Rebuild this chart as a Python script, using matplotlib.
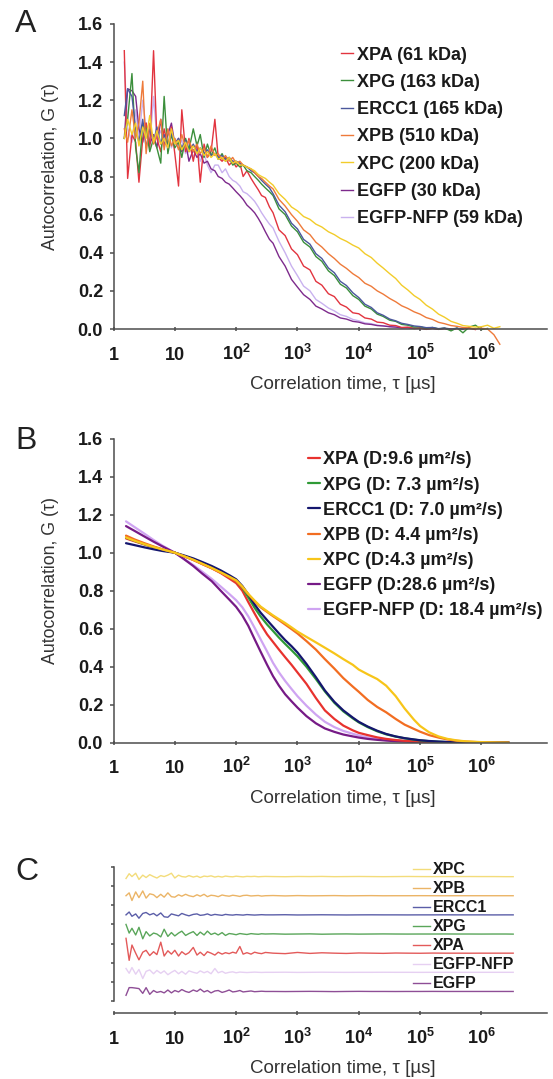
import numpy as np
import matplotlib
matplotlib.use('Agg')
import matplotlib.pyplot as plt
from matplotlib.ticker import NullLocator, NullFormatter

plt.rcParams['font.family'] = ['Liberation Sans', 'DejaVu Sans']
plt.rcParams['mathtext.fontset'] = 'custom'
plt.rcParams['mathtext.rm'] = 'Liberation Sans'
plt.rcParams['mathtext.bf'] = 'Liberation Sans:bold'
plt.rcParams['mathtext.it'] = 'Liberation Sans:italic'

# ---------------- data ----------------
NAMES = ['XPA', 'XPG', 'ERCC1', 'XPB', 'XPC', 'EGFP', 'EGFP-NFP']
LABELS_A = ['XPA (61 kDa)', 'XPG (163 kDa)', 'ERCC1 (165 kDa)', 'XPB (510 kDa)',
            'XPC (200 kDa)', 'EGFP (30 kDa)', 'EGFP-NFP (59 kDa)']
LABELS_B = ['XPA (D:9.6 µm²/s)', 'XPG (D: 7.3 µm²/s)', 'ERCC1 (D: 7.0 µm²/s)',
            'XPB (D: 4.4 µm²/s)', 'XPC (D:4.3 µm²/s)', 'EGFP (D:28.6 µm²/s)',
            'EGFP-NFP (D: 18.4 µm²/s)']
ORDER_C = ['XPC', 'XPB', 'ERCC1', 'XPG', 'XPA', 'EGFP-NFP', 'EGFP']
XTICKS = [1, 10, 1e2, 1e3, 1e4, 1e5, 1e6]
XTICK_LABELS = ['1', '10', r'$\mathbf{10^{2}}$', r'$\mathbf{10^{3}}$', r'$\mathbf{10^{4}}$',
                r'$\mathbf{10^{5}}$', r'$\mathbf{10^{6}}$']

# Panel A: measured autocorrelation (noisy)
TAU_A_HEAD = [1.5, 1.7, 2.0, 2.3, 2.6, 3.0, 3.4, 3.9, 4.5, 5.1,
              5.9, 6.7, 7.7, 8.8, 10, 11.5, 13, 15, 17, 20,
              23, 26, 30, 34, 39, 45, 51, 59, 67, 77,
              88, 100, 115, 130, 150, 175, 200, 230, 260, 300]
TAU_A_TAIL = [350, 400, 500, 630, 800, 1000, 1260, 1600, 2000, 2500,
              3200, 4000, 5000, 6300, 8000, 1e4, 1.26e4, 1.6e4, 2e4, 2.5e4,
              3.2e4, 4e4, 5e4, 6.3e4, 8e4, 1e5, 1.26e5, 1.6e5, 2e5, 2.5e5,
              3.2e5, 4e5, 5e5, 6.3e5, 8e5, 1e6, 1.26e6, 1.6e6, 2e6]

XPA_A_HEAD = [1.46, 0.79, 1.02, 0.98, 0.77, 1.0, 1.08, 0.95, 1.46, 1.0,
              0.93, 1.05, 0.96, 1.06, 0.92, 0.75, 1.15, 0.93, 1.0, 0.88,
              0.98, 0.77, 0.97, 0.9, 0.93, 1.1, 0.9, 0.88, 0.9, 0.86,
              0.88, 0.85, 0.87, 0.8, 0.83, 0.79, 0.76, 0.73, 0.7, 0.69]
XPA_A_TAIL = [0.64, 0.61, 0.52, 0.49, 0.42, 0.39, 0.33, 0.31, 0.25, 0.23,
              0.185, 0.17, 0.13, 0.115, 0.085, 0.08, 0.058, 0.052, 0.036, 0.033,
              0.02, 0.018, 0.008, 0.01, 0.003, 0.006, -0.002, 0.004, 0.0, 0.003,
              -0.004, 0.002, 0.0, 0.004, -0.003, None, None, None, None]
XPG_A_HEAD = [1.0, 1.1, 1.34, 0.95, 0.82, 1.08, 1.05, 0.93, 1.0, 0.95,
              0.87, 1.22, 0.92, 1.02, 0.95, 0.98, 0.9, 1.0, 0.94, 1.05,
              0.96, 1.02, 0.9, 0.97, 0.91, 0.95, 0.89, 0.92, 0.88, 0.9,
              0.86, 0.87, 0.85, 0.86, 0.83, 0.82, 0.8, 0.78, 0.76, 0.74]
XPG_A_TAIL = [0.72, 0.70, 0.63, 0.6, 0.54, 0.51, 0.455, 0.43, 0.38, 0.355,
              0.305, 0.28, 0.235, 0.215, 0.175, 0.155, 0.12, 0.105, 0.078, 0.066,
              0.046, 0.04, 0.024, 0.02, 0.01, 0.012, 0.003, 0.008, 0.0, 0.005,
              -0.01, 0.006, -0.02, 0.01, 0.02, -0.003, 0.003, None, None]
ERCC1_A_HEAD = [1.12, 1.26, 1.22, 1.05, 0.98, 1.1, 0.95, 1.05, 0.98, 1.06,
                0.97, 1.02, 0.95, 1.03, 0.97, 1.0, 0.95, 0.99, 0.93, 0.97,
                0.93, 0.95, 0.92, 0.94, 0.91, 0.92, 0.9, 0.91, 0.89, 0.9,
                0.88, 0.88, 0.87, 0.86, 0.85, 0.83, 0.82, 0.8, 0.78, 0.76]
ERCC1_A_TAIL = [0.74, 0.71, 0.65, 0.615, 0.555, 0.525, 0.47, 0.445, 0.395, 0.37,
                0.32, 0.295, 0.25, 0.228, 0.19, 0.165, 0.13, 0.113, 0.085, 0.072,
                0.052, 0.043, 0.03, 0.024, 0.016, 0.013, 0.007, 0.008, 0.002, 0.005,
                0.0, 0.004, -0.002, None, None, None, None, None, None]
XPB_A_HEAD = [1.05, 0.98, 1.15, 1.0, 1.08, 1.3, 0.92, 1.08, 0.97, 1.02,
              1.1, 0.94, 1.05, 0.96, 1.0, 0.94, 1.02, 0.95, 0.99, 0.93,
              0.97, 0.92, 0.95, 0.9, 0.96, 0.91, 0.92, 0.89, 0.91, 0.88,
              0.9, 0.87, 0.88, 0.86, 0.85, 0.84, 0.82, 0.8, 0.79, 0.77]
XPB_A_TAIL = [0.75, 0.735, 0.68, 0.645, 0.60, 0.565, 0.52, 0.495, 0.455, 0.43,
              0.395, 0.37, 0.34, 0.318, 0.29, 0.27, 0.24, 0.224, 0.2, 0.183,
              0.16, 0.143, 0.122, 0.108, 0.09, 0.078, 0.06, 0.05, 0.035, 0.028,
              0.018, 0.014, 0.008, 0.006, 0.0, 0.004, 0.0, -0.03, -0.08]
XPC_A_HEAD = [1.0, 1.1, 1.02, 1.08, 0.96, 1.06, 1.0, 1.12, 0.98, 1.04,
              0.97, 1.0, 0.95, 1.05, 0.97, 0.99, 0.94, 0.98, 0.93, 0.96,
              0.92, 0.95, 0.91, 0.93, 0.9, 0.92, 0.89, 0.9, 0.88, 0.9,
              0.87, 0.88, 0.86, 0.86, 0.85, 0.84, 0.83, 0.81, 0.8, 0.79]
XPC_A_TAIL = [0.77, 0.755, 0.71, 0.68, 0.64, 0.62, 0.59, 0.575, 0.55, 0.535,
              0.51, 0.495, 0.475, 0.46, 0.44, 0.425, 0.395, 0.375, 0.345, 0.32,
              0.29, 0.265, 0.23, 0.205, 0.175, 0.155, 0.125, 0.104, 0.078, 0.062,
              0.04, 0.03, 0.018, 0.014, 0.01, 0.012, 0.02, 0.004, 0.012]
EGFP_A_HEAD = [1.0, 1.26, 1.25, 1.22, 1.05, 0.98, 1.08, 0.97, 1.02, 0.95,
               1.1, 0.96, 1.02, 1.08, 0.97, 1.0, 0.93, 0.98, 0.88, 0.94,
               0.9, 0.92, 0.87, 0.88, 0.84, 0.83, 0.8, 0.79, 0.77, 0.76,
               0.74, 0.72, 0.7, 0.68, 0.65, 0.63, 0.61, 0.58, 0.55, 0.51]
EGFP_A_TAIL = [0.47, 0.45, 0.38, 0.33, 0.26, 0.22, 0.18, 0.155, 0.12, 0.105,
               0.085, 0.075, 0.058, 0.052, 0.04, 0.036, 0.027, 0.024, 0.018, 0.016,
               0.012, 0.01, 0.006, 0.007, 0.003, 0.004, 0.0, 0.003, -0.002, 0.002,
               0.0, None, None, None, None, None, None, None, None]
NFP_A_HEAD = [1.4, 1.05, 0.98, 1.15, 1.0, 1.2, 1.05, 0.96, 1.22, 1.0,
              1.04, 0.97, 1.05, 0.95, 1.0, 0.96, 0.99, 0.92, 0.97, 0.9,
              0.95, 0.88, 0.92, 0.86, 0.82, 0.86, 0.86, 0.82, 0.84, 0.8,
              0.78, 0.77, 0.75, 0.72, 0.71, 0.69, 0.67, 0.64, 0.61, 0.58]
NFP_A_TAIL = [0.55, 0.53, 0.46, 0.40, 0.33, 0.28, 0.225, 0.2, 0.155, 0.135,
              0.11, 0.095, 0.075, 0.066, 0.05, 0.043, 0.032, 0.028, 0.02, 0.017,
              0.012, 0.01, 0.007, 0.006, 0.003, 0.004, 0.001, 0.003, 0.0, None,
              None, None, None, None, None, None, None, None, None]

# Panel B: fitted curves
TAU_B = [1.6, 2.2, 3.2, 4.5, 6.3, 10, 14, 20, 28, 40,
         56, 79, 100, 126, 158, 200, 250, 320, 400, 500,
         630, 800, 1000, 1400, 2000, 2800, 4000, 5600, 8000, 1e4,
         1.4e4, 2e4, 2.8e4, 4e4, 5.6e4, 8e4, 1e5, 1.4e5, 2e5, 2.8e5,
         4e5, 5.6e5, 1e6, 1.8e6, 2.8e6]
XPA_B = [1.075, 1.06, 1.043, 1.028, 1.015, 1.0, 0.982, 0.962, 0.94, 0.918,
         0.893, 0.862, 0.84, 0.8, 0.74, 0.68, 0.625, 0.57, 0.53, 0.49,
         0.45, 0.41, 0.37, 0.31, 0.235, 0.17, 0.125, 0.09, 0.065, 0.052,
         0.04, 0.028, 0.02, 0.014, 0.01, 0.007, 0.005, 0.003, 0.002, 0.001,
         0.0, 0.0, 0.0, 0.0, 0.0]
XPG_B = [1.08, 1.063, 1.045, 1.03, 1.016, 1.0, 0.983, 0.965, 0.945, 0.923,
         0.9, 0.873, 0.852, 0.815, 0.765, 0.71, 0.665, 0.622, 0.588, 0.553,
         0.52, 0.487, 0.455, 0.4, 0.335, 0.27, 0.21, 0.165, 0.128, 0.107,
         0.082, 0.06, 0.044, 0.032, 0.023, 0.016, 0.012, 0.008, 0.005, 0.003,
         0.002, 0.001, 0.0, 0.0, 0.0]
ERCC1_B = [1.05, 1.04, 1.028, 1.018, 1.009, 1.0, 0.986, 0.97, 0.951, 0.93,
           0.907, 0.88, 0.86, 0.825, 0.78, 0.728, 0.685, 0.645, 0.61, 0.575,
           0.54, 0.508, 0.475, 0.415, 0.345, 0.275, 0.215, 0.17, 0.132, 0.11,
           0.085, 0.063, 0.046, 0.033, 0.024, 0.017, 0.013, 0.009, 0.006, 0.004,
           0.002, 0.001, 0.0, 0.0, 0.0]
XPB_B = [1.09, 1.07, 1.05, 1.033, 1.018, 1.0, 0.982, 0.962, 0.941, 0.918,
         0.895, 0.87, 0.85, 0.818, 0.78, 0.745, 0.713, 0.688, 0.666, 0.645,
         0.622, 0.598, 0.575, 0.535, 0.49, 0.44, 0.39, 0.34, 0.295, 0.268,
         0.225, 0.188, 0.16, 0.125, 0.095, 0.072, 0.058, 0.04, 0.027, 0.017,
         0.01, 0.006, 0.002, 0.0005, 0.0]
XPC_B = [1.08, 1.063, 1.045, 1.03, 1.017, 1.0, 0.982, 0.963, 0.942, 0.92,
         0.897, 0.872, 0.855, 0.822, 0.783, 0.748, 0.717, 0.692, 0.67, 0.65,
         0.63, 0.607, 0.585, 0.557, 0.528, 0.5, 0.47, 0.44, 0.41, 0.385,
         0.36, 0.335, 0.3, 0.245, 0.18, 0.12, 0.088, 0.055, 0.033, 0.02,
         0.012, 0.007, 0.003, 0.001, 0.0]
EGFP_B = [1.14, 1.115, 1.085, 1.058, 1.033, 1.0, 0.967, 0.93, 0.89, 0.85,
          0.8, 0.75, 0.715, 0.67, 0.615, 0.545, 0.48, 0.41, 0.35, 0.3,
          0.255, 0.218, 0.185, 0.14, 0.102, 0.075, 0.057, 0.043, 0.033, 0.027,
          0.02, 0.015, 0.011, 0.008, 0.006, 0.004, 0.003, 0.002, 0.001, 0.0,
          0.0, 0.0, 0.0, 0.0, 0.0]
NFP_B = [1.165, 1.135, 1.1, 1.067, 1.037, 1.0, 0.968, 0.935, 0.9, 0.862,
         0.822, 0.78, 0.75, 0.713, 0.665, 0.605, 0.545, 0.48, 0.42, 0.37,
         0.325, 0.283, 0.245, 0.195, 0.148, 0.11, 0.082, 0.062, 0.047, 0.038,
         0.028, 0.021, 0.016, 0.012, 0.009, 0.006, 0.005, 0.003, 0.002, 0.001,
         0.0, 0.0, 0.0, 0.0, 0.0]

# Panel C: residuals
TAU_C = [1.6, 1.8, 2.0, 2.3, 2.6, 3.0, 3.4, 3.9, 4.5, 5.1,
         5.9, 6.7, 7.7, 8.8, 10, 11.5, 13, 15, 17, 20,
         23, 26, 30, 34, 39, 45, 51, 59, 67, 77,
         88, 100, 115, 130, 150, 175, 200, 230, 260, 300,
         400, 630, 1000, 1600, 2500, 4000, 6300, 1e4, 1.6e4, 2.5e4,
         4e4, 6.3e4, 1e5, 1.6e5, 2.5e5, 4e5, 6.3e5, 1e6, 1.6e6, 2.5e6, 3.3e6]
RES_XPC = [-0.04, 0.06, 0.0, 0.07, -0.06, 0.03, -0.02, 0.04, 0.0, -0.03,
           0.02, 0.0, 0.03, 0.07, -0.03, 0.03, 0.0, -0.01, 0.02, -0.01,
           0.01, -0.02, 0.01, 0.0, 0.015, -0.01, 0.005, -0.01, 0.01, 0.0,
           -0.005, 0.008, 0.0, -0.006, 0.004, 0.0, 0.005, -0.004, 0.0, 0.003,
           0.0, -0.003, 0.002, 0.0, 0.003, -0.002, 0.0, 0.002, 0.0, -0.002,
           0.0, 0.002, 0.0, -0.001, 0.0, 0.0, 0.001, 0.0, 0.0, -0.002, -0.002]
RES_XPB = [0.0, 0.06, -0.1, 0.08, -0.04, 0.1, -0.05, 0.04, 0.02, -0.04,
           0.03, -0.03, 0.06, -0.02, -0.03, 0.02, -0.01, 0.03, 0.0, -0.02,
           0.02, -0.01, 0.03, -0.02, 0.01, 0.0, -0.02, 0.015, 0.0, -0.01,
           0.01, 0.0, -0.015, 0.005, 0.01, -0.005, 0.0, 0.005, -0.008, 0.0,
           0.004, -0.004, 0.003, -0.002, 0.0, 0.003, -0.002, 0.0, 0.002, -0.001,
           0.0, 0.0, 0.001, 0.0, -0.001, 0.0, 0.0, 0.0, 0.0, 0.0, 0.0]
RES_ERCC1 = [0.0, 0.06, -0.03, 0.02, -0.07, 0.03, 0.05, 0.0, 0.03, -0.02,
             0.04, -0.04, -0.05, 0.02, 0.0, -0.02, 0.03, 0.0, -0.02, 0.01,
             0.02, -0.01, 0.0, 0.02, -0.01, 0.01, 0.0, -0.01, 0.01, 0.0,
             -0.005, 0.005, 0.0, -0.005, 0.006, 0.0, -0.004, 0.0, 0.004, 0.0,
             0.0, 0.003, -0.002, 0.0, 0.002, 0.0, -0.002, 0.0, 0.001, 0.0,
             0.0, -0.001, 0.0, 0.0, 0.001, 0.0, 0.0, 0.0, -0.001, 0.0, 0.0]
RES_XPG = [0.2, 0.02, 0.12, -0.02, 0.14, -0.1, 0.05, -0.04, 0.02, 0.0,
           -0.06, 0.1, -0.05, 0.03, -0.04, 0.02, 0.06, -0.03, 0.01, 0.05,
           -0.03, 0.04, -0.02, 0.06, -0.01, 0.02, -0.02, 0.03, -0.03, 0.01,
           0.0, -0.015, 0.01, 0.0, -0.01, 0.008, 0.0, -0.005, 0.005, 0.0,
           0.004, -0.003, 0.0, 0.003, -0.004, 0.0, 0.002, -0.002, 0.0, 0.002,
           0.0, -0.001, 0.0, 0.0, 0.001, 0.0, 0.0, -0.001, 0.0, 0.0, -0.002]
RES_XPA = [0.31, -0.15, 0.17, 0.0, -0.14, 0.02, 0.06, -0.05, 0.03, -0.03,
           0.23, -0.06, 0.05, -0.02, 0.06, -0.06, 0.03, -0.03, 0.01, 0.12,
           -0.04, 0.02, -0.05, 0.03, 0.0, -0.04, 0.02, -0.02, 0.01, -0.01,
           0.02, 0.0, 0.14, -0.02, 0.01, -0.02, 0.02, 0.0, -0.01, 0.015,
           0.0, -0.01, 0.015, -0.005, 0.008, 0.0, -0.006, 0.004, 0.0, -0.004,
           0.003, 0.0, -0.002, 0.002, 0.0, 0.0, -0.001, 0.0, 0.0, 0.0, 0.0]
RES_NFP = [0.08, -0.02, 0.1, -0.04, 0.06, -0.13, 0.02, 0.05, -0.03, 0.04,
           -0.02, 0.03, -0.05, 0.0, 0.04, -0.03, 0.02, -0.04, 0.03, 0.0,
           -0.02, 0.03, -0.01, 0.02, -0.03, 0.08, -0.01, 0.02, -0.02, 0.0,
           0.01, -0.01, 0.005, 0.0, -0.005, 0.0, 0.004, 0.0, -0.003, 0.0,
           0.0, 0.002, -0.002, 0.0, 0.002, 0.0, -0.001, 0.0, 0.0, 0.001,
           0.0, 0.0, -0.001, 0.0, 0.0, 0.0, 0.0, 0.0, 0.0, 0.0, 0.0]
RES_EGFP = [-0.08, 0.08, 0.08, 0.07, 0.06, -0.04, 0.08, -0.06, 0.02, -0.02,
            0.0, -0.03, 0.03, -0.03, 0.02, -0.01, 0.04, 0.0, -0.02, 0.03,
            0.0, 0.05, -0.01, 0.02, -0.03, 0.01, 0.02, -0.02, 0.0, 0.03,
            -0.01, 0.0, 0.02, -0.01, 0.0, 0.01, -0.005, 0.0, 0.005, 0.0,
            0.0, -0.002, 0.0, 0.002, 0.0, -0.003, 0.0, 0.002, 0.0, 0.0,
            -0.001, 0.0, 0.0, 0.001, 0.0, 0.0, 0.0, 0.0, 0.0, 0.0, 0.0]

A_DATA = {'XPA': XPA_A_HEAD + XPA_A_TAIL, 'XPG': XPG_A_HEAD + XPG_A_TAIL,
          'ERCC1': ERCC1_A_HEAD + ERCC1_A_TAIL, 'XPB': XPB_A_HEAD + XPB_A_TAIL,
          'XPC': XPC_A_HEAD + XPC_A_TAIL, 'EGFP': EGFP_A_HEAD + EGFP_A_TAIL,
          'EGFP-NFP': NFP_A_HEAD + NFP_A_TAIL}
B_DATA = {'XPA': XPA_B, 'XPG': XPG_B, 'ERCC1': ERCC1_B, 'XPB': XPB_B, 'XPC': XPC_B,
          'EGFP': EGFP_B, 'EGFP-NFP': NFP_B}
C_DATA = {'XPC': RES_XPC, 'XPB': RES_XPB, 'ERCC1': RES_ERCC1, 'XPG': RES_XPG,
          'XPA': RES_XPA, 'EGFP-NFP': RES_NFP, 'EGFP': RES_EGFP}

# ---------------- style ----------------
COL_A = {'XPA': '#e2343f', 'XPG': '#3b8f3b', 'ERCC1': '#4b579c', 'XPB': '#ee7a3a',
         'XPC': '#f2cc2a', 'EGFP': '#7d2a8c', 'EGFP-NFP': '#c9b2ef'}
COL_B = {'XPA': '#e8322e', 'XPG': '#2f9a36', 'ERCC1': '#14166e', 'XPB': '#f26d21',
         'XPC': '#f7c519', 'EGFP': '#761a86', 'EGFP-NFP': '#cfa4f2'}
COL_C = {'XPC': '#f3dc7a', 'XPB': '#ebb466', 'ERCC1': '#5b5ea8', 'XPG': '#5aa65a',
         'XPA': '#e35a5a', 'EGFP-NFP': '#e6d0f2', 'EGFP': '#8e4e96'}
C_OFFSET = {'XPC': 2.4, 'XPB': 2.0, 'ERCC1': 1.6, 'XPG': 1.2, 'XPA': 0.8,
            'EGFP-NFP': 0.4, 'EGFP': 0.0}
PLOT_ORDER = ['EGFP-NFP', 'EGFP', 'XPA', 'XPG', 'ERCC1', 'XPB', 'XPC']

W, H = 553, 1079
FS_TICK = 13
FS_LEG = 13
FS_XLAB = 13.5
FS_YLAB = 12.8
SPINE = '#4d4d4d'
TXT = '#1a1a1a'
fig = plt.figure(figsize=(W / 100, H / 100), dpi=100)


def rect(left, top, right, bottom):
    return [left / W, 1 - bottom / H, (right - left) / W, (bottom - top) / H]


XL, XR = 113.5, 547
XMAX = 10 ** 7.07


def base_style(ax, ax_h_px):
    ax.set_xscale('log')
    ax.set_xlim(1, XMAX)
    for s in ('top', 'right'):
        ax.spines[s].set_visible(False)
    for s in ('left', 'bottom'):
        ax.spines[s].set_color(SPINE)
        ax.spines[s].set_linewidth(1.1)
    ax.set_xticks(XTICKS, labels=XTICK_LABELS, fontweight='bold', fontsize=FS_TICK,
                  va='baseline', color=TXT)
    ax.xaxis.set_minor_locator(NullLocator())
    ax.tick_params(axis='x', direction='inout', length=3, width=1.1, color=SPINE, pad=20.5)
    ax.set_xlabel('Correlation time, τ [µs]', fontsize=FS_XLAB, color='#333333')
    ax.xaxis.set_label_coords(0.529, -47 / ax_h_px)


def yaxis_style(ax):
    ax.set_ylim(0, 1.6)
    yt = [0.0, 0.2, 0.4, 0.6, 0.8, 1.0, 1.2, 1.4, 1.6]
    ax.set_yticks(yt, labels=['%.1f' % v for v in yt], fontweight='bold', fontsize=FS_TICK,
                  color=TXT)
    ax.tick_params(axis='y', direction='out', length=3, width=1.1, color=SPINE, pad=4.5)
    ax.set_ylabel('Autocorrelation, G (τ)', fontsize=FS_YLAB, color='#333333')
    ax.yaxis.set_label_coords(-0.125, 0.532)


def make_legend(ax, handles, labels, x_px, top_px, size, hl, htp, ls):
    leg = ax.legend(handles, labels, loc='upper left',
                    bbox_to_anchor=(x_px / W, 1 - top_px / H), bbox_transform=fig.transFigure,
                    frameon=False, borderpad=0, borderaxespad=0, handlelength=hl,
                    handletextpad=htp, labelspacing=ls,
                    prop={'weight': 'bold', 'size': size})
    for t in leg.get_texts():
        t.set_color(TXT)
    return leg


# ---------------- panel A ----------------
axA = fig.add_axes(rect(XL, 24, XR, 329))
tauA = np.array(TAU_A_HEAD + TAU_A_TAIL, dtype=float)
hA = {}
for n in PLOT_ORDER:
    hA[n], = axA.plot(tauA, np.array(A_DATA[n], dtype=float), color=COL_A[n], lw=1.0,
                      clip_on=False)
base_style(axA, 305)
yaxis_style(axA)
make_legend(axA, [hA[n] for n in NAMES], LABELS_A, 341, 46.5, FS_LEG, 0.66, 0.22, 0.57)

# ---------------- panel B ----------------
axB = fig.add_axes(rect(XL, 438.7, XR, 742.7))
tauB = np.array(TAU_B, dtype=float)
hB = {}
for n in PLOT_ORDER:
    hB[n], = axB.plot(tauB, np.array(B_DATA[n], dtype=float), color=COL_B[n], lw=1.6,
                      solid_capstyle='round', solid_joinstyle='round')
base_style(axB, 304)
yaxis_style(axB)
make_legend(axB, [hB[n] for n in NAMES], LABELS_B, 308, 451.5, FS_LEG, 0.66, 0.17, 0.45)

# ---------------- panel C ----------------
axC = fig.add_axes(rect(XL, 867, XR, 1013))
tauC = np.array(TAU_C, dtype=float)
hC = {}
for n in ORDER_C:
    hC[n], = axC.plot(tauC, C_OFFSET[n] + np.array(C_DATA[n], dtype=float),
                      color=COL_C[n], lw=1.0)
base_style(axC, 146)
axC.set_ylim(-0.45, 2.6)
axC.spines['left'].set_bounds(-0.2, 2.6)
axC.set_yticks([-0.2, 0.2, 0.6, 1.0, 1.4, 1.8, 2.2, 2.6])
axC.yaxis.set_major_formatter(NullFormatter())
axC.tick_params(axis='y', direction='out', length=2.5, width=1.1, color=SPINE)
make_legend(axC, [hC[n] for n in ORDER_C], ORDER_C, 413, 862.5, 11.5, 1.05, 0.18, 0.25)

# ---------------- panel letters ----------------
for letter, yb in (('A', 31.5), ('B', 449), ('C', 880)):
    fig.text(15 / W, 1 - yb / H, letter, fontsize=23, va='baseline', ha='left', color='#222222')

fig.savefig('out.png', dpi=100)
